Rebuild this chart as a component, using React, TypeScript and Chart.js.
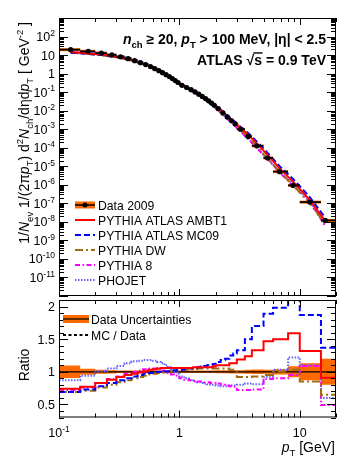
import { useEffect, useRef } from 'react';
import { Chart, registerables } from 'chart.js';
Chart.register(...registerables);

const FONT = '"Liberation Sans", Arial, Helvetica, sans-serif';

// ---------------- data ----------------
const binEdges = [0.1, 0.15, 0.2, 0.25, 0.3, 0.35, 0.4, 0.45, 0.5, 0.55, 0.6, 0.65, 0.7, 0.75, 0.8, 0.85, 0.9, 0.95, 1.0,
  1.1, 1.2, 1.3, 1.4, 1.5, 1.6, 1.7, 1.8, 1.9, 2.0, 2.2, 2.4, 2.6, 2.8, 3.0, 3.5, 4.0, 5, 6, 8, 10, 15, 20];

const pointPt = [0.125, 0.175, 0.225, 0.275, 0.325, 0.375, 0.425, 0.475, 0.525, 0.575, 0.625, 0.675, 0.725, 0.775, 0.825,
  0.875, 0.925, 0.975, 1.05, 1.15, 1.25, 1.35, 1.45, 1.55, 1.65, 1.75, 1.85, 1.95, 2.1, 2.3, 2.5, 2.7, 2.9, 3.23, 3.73,
  4.4, 5.4, 6.8, 8.8, 12.1, 16.3];

const dataValues = [19.5, 16, 12.8, 10.2, 8.1, 6.4, 5.0, 3.9, 3.05, 2.38, 1.85, 1.44, 1.12, 0.88, 0.69, 0.54, 0.42, 0.33,
  0.234, 0.178, 0.135, 0.102, 0.078, 0.059, 0.045, 0.034, 0.0257, 0.0195, 0.0129, 0.0076, 0.0046, 0.00295, 0.00195,
  1.0e-3, 4.1e-4, 1.26e-4, 2.8e-5, 5.1e-6, 9.3e-7, 1.17e-7, 1.2e-8];

const dataUnc = [0.095, 0.045, 0.03, 0.025, 0.02, 0.02, 0.02, 0.02, 0.02, 0.02, 0.02, 0.02, 0.02, 0.02, 0.02, 0.02, 0.02,
  0.02, 0.02, 0.02, 0.02, 0.02, 0.02, 0.02, 0.02, 0.02, 0.02, 0.02, 0.022, 0.022, 0.022, 0.025, 0.025, 0.025, 0.03,
  0.035, 0.03, 0.04, 0.085, 0.13, 0.2];

const ratioAMBT1 = [0.74, 0.77, 0.83, 0.88, 0.92, 0.95, 0.97, 0.99, 1.01, 1.03, 1.04, 1.05, 1.06, 1.06, 1.06, 1.06, 1.06,
  1.06, 1.06, 1.06, 1.06, 1.07, 1.07, 1.07, 1.07, 1.07, 1.07, 1.08, 1.1, 1.1, 1.1, 1.13, 1.13, 1.19, 1.24, 1.33, 1.47,
  1.5, 1.59, 1.32, 0.91];
const ratioMC09 = [0.69, 0.73, 0.78, 0.83, 0.87, 0.9, 0.93, 0.95, 0.97, 0.98, 0.99, 1.0, 1.0, 1.01, 1.01, 1.02, 1.02,
  1.03, 1.03, 1.04, 1.05, 1.06, 1.07, 1.08, 1.09, 1.1, 1.11, 1.12, 1.15, 1.18, 1.2, 1.25, 1.28, 1.33, 1.5, 1.7, 1.89,
  1.98, 2.2, 1.87, 1.37];
const ratioDW = [0.69, 0.71, 0.76, 0.8, 0.84, 0.87, 0.9, 0.92, 0.94, 0.96, 0.97, 0.98, 0.99, 1.0, 1.0, 1.01, 1.01, 1.02,
  1.03, 1.03, 1.04, 1.04, 1.05, 1.05, 1.05, 1.05, 1.05, 1.05, 1.05, 1.05, 1.05, 1.03, 1.03, 0.92, 0.92, 0.93, 0.95, 1.0,
  1.03, 0.85, 0.65];
const ratioPythia8 = [0.72, 0.76, 0.83, 0.89, 0.93, 0.97, 1.0, 1.02, 1.04, 1.05, 1.05, 1.04, 1.02, 1.0, 0.98, 0.96, 0.94,
  0.92, 0.9, 0.88, 0.87, 0.86, 0.85, 0.85, 0.84, 0.84, 0.83, 0.83, 0.82, 0.8, 0.79, 0.78, 0.77, 0.72, 0.72, 0.73, 0.89,
  0.9, 0.95, 1.09, 0.49];
const ratioPhojet = [0.87, 0.94, 1.01, 1.05, 1.09, 1.13, 1.16, 1.17, 1.18, 1.18, 1.17, 1.15, 1.13, 1.1, 1.07, 1.04, 1.0,
  0.97, 0.93, 0.9, 0.87, 0.85, 0.84, 0.83, 0.82, 0.81, 0.8, 0.8, 0.79, 0.78, 0.78, 0.79, 0.79, 0.8, 0.82, 0.81, 0.92,
  1.03, 1.22, 1.1, 0.6];

const X_MIN = 0.1, X_MAX = 20;
const Y_MIN = 1e-12, Y_MAX = 1e3;
const R_MIN = 0.3, R_MAX = 2.1;
const yTickExponents = [2, 1, 0, -1, -2, -3, -4, -5, -6, -7, -8, -9, -10, -11];
const ratioTickValues = [0.5, 1, 1.5, 2];
const ratioTickLabels = ['0.5', '1', '1.5', '2'];
const xTickValues = [0.1, 1, 10];

const dataLabel = 'Data 2009';
const mcSeries = [
  { label: 'PYTHIA ATLAS AMBT1', ratio: ratioAMBT1, color: '#ff0000', dash: [] as number[] },
  { label: 'PYTHIA ATLAS MC09', ratio: ratioMC09, color: '#0000ff', dash: [6, 3] },
  { label: 'PYTHIA DW', ratio: ratioDW, color: '#9e6d10', dash: [8, 3, 2, 3] },
  { label: 'PYTHIA 8', ratio: ratioPythia8, color: '#ff00ff', dash: [5, 2.5, 1.5, 2.5] },
  { label: 'PHOJET', ratio: ratioPhojet, color: '#6464ff', dash: [1.5, 1.5] },
];
const ORANGE = '#ff6a00';

// ---------------- helpers ----------------
type Part = { t: string; s?: 'sub' | 'sup'; it?: boolean; over?: boolean };

function drawRich(ctx: CanvasRenderingContext2D, parts: Part[], x: number, y: number, size: number,
  bold: boolean, align: 'left' | 'right' | 'center') {
  const fontFor = (p: Part) => `${p.it ? 'italic ' : ''}${bold ? 'bold ' : ''}${p.s ? size * 0.68 : size}px ${FONT}`;
  let w = 0;
  for (const p of parts) { ctx.font = fontFor(p); w += ctx.measureText(p.t).width; }
  let cx = align === 'left' ? x : align === 'right' ? x - w : x - w / 2;
  ctx.textAlign = 'left';
  ctx.textBaseline = 'alphabetic';
  for (const p of parts) {
    ctx.font = fontFor(p);
    const dy = p.s === 'sub' ? size * 0.32 : p.s === 'sup' ? -size * 0.42 : 0;
    ctx.fillText(p.t, cx, y + dy);
    const pw = ctx.measureText(p.t).width;
    if (p.over) {
      ctx.save();
      ctx.lineWidth = bold ? 1.4 : 1;
      ctx.beginPath();
      ctx.moveTo(cx - 1, y - size * 0.86);
      ctx.lineTo(cx + pw + 0.5, y - size * 0.86);
      ctx.stroke();
      ctx.restore();
    }
    cx += pw;
  }
  return w;
}

function drawRotated(ctx: CanvasRenderingContext2D, parts: Part[], x: number, y: number, size: number,
  align: 'left' | 'right' | 'center') {
  ctx.save();
  ctx.translate(x, y);
  ctx.rotate(-Math.PI / 2);
  drawRich(ctx, parts, 0, 0, size, false, align);
  ctx.restore();
}

function logTicks(min: number, max: number) {
  const out: { v: number; major: boolean }[] = [];
  for (let d = Math.floor(Math.log10(min)); d <= Math.ceil(Math.log10(max)); d++) {
    for (let k = 1; k <= 9; k++) {
      const v = k * Math.pow(10, d);
      if (v >= min * 0.9999 && v <= max * 1.0001) out.push({ v, major: k === 1 });
    }
  }
  return out;
}

function drawXTicks(ctx: CanvasRenderingContext2D, xs: any, area: any, maj: number, min: number) {
  ctx.beginPath();
  for (const t of logTicks(X_MIN, X_MAX)) {
    const px = Math.round(xs.getPixelForValue(t.v)) + 0.5;
    const len = t.major ? maj : min;
    ctx.moveTo(px, area.bottom); ctx.lineTo(px, area.bottom - len);
    ctx.moveTo(px, area.top); ctx.lineTo(px, area.top + len);
  }
  ctx.stroke();
}

function drawFrame(ctx: CanvasRenderingContext2D, area: any) {
  ctx.strokeRect(area.left + 0.5, area.top + 0.5, area.right - area.left - 1, area.bottom - area.top - 1);
}

function legendLine(ctx: CanvasRenderingContext2D, x0: number, x1: number, y: number, color: string, dash: number[]) {
  ctx.save();
  ctx.strokeStyle = color;
  ctx.lineWidth = 2;
  ctx.setLineDash(dash);
  ctx.beginPath();
  ctx.moveTo(x0, y); ctx.lineTo(x1, y);
  ctx.stroke();
  ctx.restore();
}

// ---------------- upper panel ----------------
const upperPlugin = {
  id: 'upperDeco',
  beforeDatasetsDraw(chart: any) {
    const { ctx, scales: { x: xs, y: ys } } = chart;
    ctx.save();
    ctx.fillStyle = ORANGE;
    for (let i = 0; i < dataValues.length; i++) {
      const x0 = xs.getPixelForValue(binEdges[i]);
      const x1 = xs.getPixelForValue(binEdges[i + 1]);
      let yt = ys.getPixelForValue(dataValues[i] * (1 + dataUnc[i]));
      let yb = ys.getPixelForValue(dataValues[i] * (1 - dataUnc[i]));
      if (yb - yt < 3) { const c = (yt + yb) / 2; yt = c - 1.5; yb = c + 1.5; }
      ctx.fillRect(x0, yt, x1 - x0, yb - yt);
    }
    ctx.restore();
  },
  afterDatasetsDraw(chart: any) {
    const { ctx, scales: { x: xs, y: ys } } = chart;
    ctx.save();
    ctx.strokeStyle = '#000';
    ctx.lineWidth = 1.8;
    ctx.beginPath();
    for (let i = 0; i < dataValues.length; i++) {
      const py = ys.getPixelForValue(dataValues[i]);
      ctx.moveTo(xs.getPixelForValue(binEdges[i]), py);
      ctx.lineTo(xs.getPixelForValue(binEdges[i + 1]), py);
    }
    ctx.stroke();
    ctx.restore();
  },
  afterDraw(chart: any) {
    const { ctx, chartArea: area, scales: { x: xs, y: ys } } = chart;
    ctx.save();
    ctx.strokeStyle = '#000';
    ctx.fillStyle = '#000';
    ctx.lineWidth = 1;
    drawFrame(ctx, area);
    drawXTicks(ctx, xs, area, 7, 4);
    ctx.beginPath();
    for (const t of logTicks(Y_MIN, Y_MAX)) {
      const py = Math.round(ys.getPixelForValue(t.v)) + 0.5;
      const len = t.major ? 9 : 5;
      ctx.moveTo(area.left, py); ctx.lineTo(area.left + len, py);
      ctx.moveTo(area.right, py); ctx.lineTo(area.right - len, py);
    }
    ctx.stroke();
    // y tick labels
    for (const e of yTickExponents) {
      const py = ys.getPixelForValue(Math.pow(10, e));
      const parts: Part[] = e === 0 ? [{ t: '1' }] : e === 1 ? [{ t: '10' }] : [{ t: '10' }, { t: String(e), s: 'sup' }];
      drawRich(ctx, parts, 55, py + 4.5, 12.5, false, 'right');
    }
    // y title
    drawRotated(ctx, [
      { t: '1/' }, { t: 'N', it: true }, { t: 'ev', s: 'sub' }, { t: ' 1/(2π' }, { t: 'p', it: true }, { t: 'T', s: 'sub' },
      { t: ') d' }, { t: '2', s: 'sup' }, { t: 'N', it: true }, { t: 'ch', s: 'sub' }, { t: '/dηd' }, { t: 'p', it: true },
      { t: 'T', s: 'sub' }, { t: ' [ GeV' }, { t: '-2', s: 'sup' }, { t: ' ]' },
    ], 29, 22, 14, 'right');
    // header texts
    drawRich(ctx, [
      { t: 'n', it: true }, { t: 'ch', s: 'sub' }, { t: ' ≥ 20, ' }, { t: 'p', it: true }, { t: 'T', s: 'sub' },
      { t: ' > 100 MeV, |η| < 2.5' },
    ], 326, 44, 14, true, 'right');
    drawRich(ctx, [{ t: 'ATLAS ' }, { t: '√' }, { t: 's', over: true }, { t: ' = 0.9 TeV' }], 326, 65, 14, true, 'right');
    // legend
    const lx0 = 75, lx1 = 95, tx = 98;
    let ly = 205;
    ctx.fillStyle = ORANGE;
    ctx.fillRect(lx0, ly - 3.5, lx1 - lx0, 7);
    ctx.strokeStyle = '#000';
    ctx.lineWidth = 1.5;
    ctx.beginPath(); ctx.moveTo(lx0, ly); ctx.lineTo(lx1, ly); ctx.stroke();
    ctx.fillStyle = '#000';
    ctx.beginPath(); ctx.arc((lx0 + lx1) / 2, ly, 2.5, 0, Math.PI * 2); ctx.fill();
    ctx.font = `12.2px ${FONT}`;
    ctx.textAlign = 'left';
    ctx.textBaseline = 'alphabetic';
    ctx.fillText(dataLabel, tx, ly + 4.5);
    for (const s of mcSeries) {
      ly += 15;
      legendLine(ctx, lx0, lx1, ly, s.color, s.dash);
      ctx.fillStyle = '#000';
      ctx.font = `12.2px ${FONT}`;
      ctx.fillText(s.label, tx, ly + 4.5);
    }
    ctx.restore();
  },
};

function upperConfig(): any {
  const datasets: any[] = [
    {
      label: dataLabel,
      data: pointPt.map((x, i) => ({ x, y: dataValues[i] })),
      showLine: false,
      pointRadius: 2.6,
      pointBackgroundColor: '#000',
      pointBorderColor: '#000',
      pointBorderWidth: 0,
      order: 0,
    },
    ...mcSeries.map((s, k) => ({
      label: s.label,
      data: pointPt.map((x, i) => ({ x, y: dataValues[i] * s.ratio[i] })),
      borderColor: s.color,
      borderDash: s.dash,
      borderWidth: 2,
      pointRadius: 0,
      fill: false,
      tension: 0,
      order: k + 1,
    })),
  ];
  return {
    type: 'line',
    data: { datasets },
    options: {
      responsive: false,
      animation: false,
      devicePixelRatio: 1,
      events: [],
      layout: { padding: { left: 59, right: 21, top: 18, bottom: 0 } },
      scales: {
        x: { type: 'logarithmic', min: X_MIN, max: X_MAX, display: false },
        y: { type: 'logarithmic', min: Y_MIN, max: Y_MAX, display: false },
      },
      plugins: { legend: { display: false }, tooltip: { enabled: false }, title: { display: false } },
    },
    plugins: [upperPlugin],
  };
}

// ---------------- ratio panel ----------------
const CANVAS2_TOP = 294;

const ratioPlugin = {
  id: 'ratioDeco',
  afterDraw(chart: any) {
    const { ctx, chartArea: area, scales: { x: xs, y: ys } } = chart;
    ctx.save();
    ctx.strokeStyle = '#000';
    ctx.fillStyle = '#000';
    ctx.lineWidth = 1;
    drawFrame(ctx, area);
    drawXTicks(ctx, xs, area, 7, 4);
    ctx.beginPath();
    for (let i = Math.round(R_MIN * 10); i <= Math.round(R_MAX * 10); i++) {
      const py = Math.round(ys.getPixelForValue(i / 10)) + 0.5;
      const len = i % 5 === 0 ? 9 : 5;
      ctx.moveTo(area.left, py); ctx.lineTo(area.left + len, py);
      ctx.moveTo(area.right, py); ctx.lineTo(area.right - len, py);
    }
    ctx.stroke();
    ratioTickValues.forEach((v, i) => {
      drawRich(ctx, [{ t: ratioTickLabels[i] }], 55, ys.getPixelForValue(v) + 4.5, 12.5, false, 'right');
    });
    xTickValues.forEach((v) => {
      const parts: Part[] = v === 0.1 ? [{ t: '10' }, { t: '-1', s: 'sup' }] : [{ t: String(v) }];
      drawRich(ctx, parts, xs.getPixelForValue(v), 437 - CANVAS2_TOP, 12.5, false, 'center');
    });
    drawRich(ctx, [{ t: 'p', it: true }, { t: 'T', s: 'sub' }, { t: ' [GeV]' }], 335, 452 - CANVAS2_TOP, 14, false, 'right');
    drawRotated(ctx, [{ t: 'Ratio' }], 29, 365 - CANVAS2_TOP, 14, 'center');
    // legend
    const ly1 = 319 - CANVAS2_TOP, ly2 = 335 - CANVAS2_TOP;
    ctx.fillStyle = ORANGE;
    ctx.fillRect(63, ly1 - 4, 26, 8);
    ctx.strokeStyle = '#000';
    ctx.lineWidth = 1.2;
    ctx.beginPath(); ctx.moveTo(63, ly1); ctx.lineTo(89, ly1); ctx.stroke();
    legendLine(ctx, 63, 88, ly2, '#000', [3, 2.5]);
    ctx.fillStyle = '#000';
    ctx.font = `12.2px ${FONT}`;
    ctx.textAlign = 'left';
    ctx.textBaseline = 'alphabetic';
    ctx.fillText('Data Uncertainties', 91, ly1 + 4.5);
    ctx.fillText('MC / Data', 91, ly2 + 4.5);
    ctx.restore();
  },
};

function stepData(values: number[]) {
  return binEdges.map((e, i) => ({ x: e, y: values[Math.min(i, values.length - 1)] }));
}

function ratioConfig(): any {
  const bandUp = dataUnc.map((u) => 1 + u);
  const bandLo = dataUnc.map((u) => 1 - u);
  const datasets: any[] = [
    { label: 'unc-up', data: stepData(bandUp), stepped: 'before', borderWidth: 0, pointRadius: 0, fill: false, order: 30 },
    {
      label: 'Data Uncertainties', data: stepData(bandLo), stepped: 'before', borderWidth: 0, pointRadius: 0,
      fill: '-1', backgroundColor: ORANGE, order: 30,
    },
    {
      label: 'unity', data: [{ x: X_MIN, y: 1 }, { x: X_MAX, y: 1 }], borderColor: '#000', borderWidth: 1.2,
      pointRadius: 0, fill: false, order: 20,
    },
    ...mcSeries.map((s, k) => ({
      label: s.label,
      data: stepData(s.ratio),
      stepped: 'before',
      borderColor: s.color,
      borderDash: s.dash,
      borderWidth: 2,
      pointRadius: 0,
      fill: false,
      order: k + 1,
    })),
  ];
  return {
    type: 'line',
    data: { datasets },
    options: {
      responsive: false,
      animation: false,
      devicePixelRatio: 1,
      events: [],
      layout: { padding: { left: 59, right: 21, top: 300 - CANVAS2_TOP, bottom: 168 - (417.5 - CANVAS2_TOP) } },
      scales: {
        x: { type: 'logarithmic', min: X_MIN, max: X_MAX, display: false },
        y: { type: 'linear', min: R_MIN, max: R_MAX, display: false },
      },
      plugins: { legend: { display: false }, tooltip: { enabled: false }, title: { display: false } },
    },
    plugins: [ratioPlugin],
  };
}

export default function App() {
  const topRef = useRef<HTMLCanvasElement>(null);
  const botRef = useRef<HTMLCanvasElement>(null);
  useEffect(() => {
    const top = new Chart(topRef.current as HTMLCanvasElement, upperConfig());
    const bot = new Chart(botRef.current as HTMLCanvasElement, ratioConfig());
    return () => { top.destroy(); bot.destroy(); };
  }, []);
  return (
    <div style={{ position: 'fixed', left: 0, top: 0, width: 357, height: 462, background: '#fff' }}>
      <canvas ref={topRef} width={357} height={300}
        style={{ position: 'absolute', left: 0, top: 0, width: 357, height: 300 }} />
      <canvas ref={botRef} width={357} height={168}
        style={{ position: 'absolute', left: 0, top: CANVAS2_TOP, width: 357, height: 168 }} />
    </div>
  );
}
